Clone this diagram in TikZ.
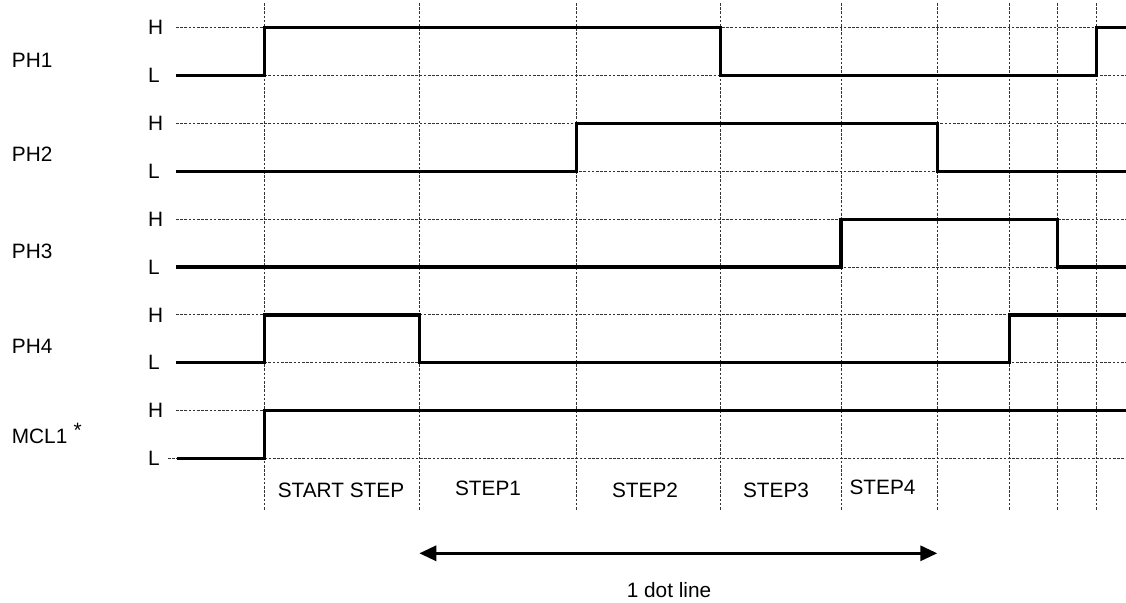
\documentclass[tikz,border=0pt]{standalone}
\usepackage{fontspec}
\setmainfont{Liberation Sans}
\usetikzlibrary{arrows.meta}
\begin{document}
\begin{tikzpicture}[x=1pt,y=-1pt,
  gridline/.style={line width=0.85pt, black!80, dash pattern=on 2.6pt off 1.6pt},
  sig/.style={line width=3.2pt, line join=miter, line cap=butt, black},
  txt/.style={font=\fontsize{20.8}{24}\selectfont, inner sep=0pt},
  lbl/.style={txt, anchor=west},
  span/.style={line width=3.2pt, {Triangle[length=17pt,width=15pt]}-{Triangle[length=17pt,width=15pt]}},
]
\useasboundingbox (0,0) rectangle (1126,602);
% column positions
\def\xA{264.3}\def\xB{419.3}\def\xC{576.7}\def\xD{720.7}\def\xE{841}
\def\xF{937.3}\def\xG{1009.3}\def\xH{1057.3}\def\xI{1096.7}
% vertical dotted lines
\foreach \x in {\xA,\xB,\xC,\xD,\xE,\xF,\xG,\xH,\xI}
  \draw[gridline] (\x,3) -- (\x,510);
% horizontal dotted lines
\foreach \y in {27.5,75.4,123.3,171.2,219.1,267,314.9,362.8,410.7}
  \draw[gridline] (176,\y) -- (1126,\y);
\draw[gridline] (168,458.6) -- (1126,458.6);
% level labels
\foreach \y/\n in {27.5/h1,123.3/h2,219.1/h3,314.9/h4,410.7/h5}
  \node[lbl] (\n) at (148,\y) {H};
\foreach \y/\n in {75.4/l1,171.2/l2,267/l3,362.8/l4,458.6/l5}
  \node[lbl] (\n) at (148,\y) {L};
% signal names
\node[lbl] (ph1) at (11.7,60) {PH1};
\node[lbl] (ph2) at (11.7,154.5) {PH2};
\node[lbl] (ph3) at (11.7,251.5) {PH3};
\node[lbl] (ph4) at (11.7,346.5) {PH4};
\node[lbl] (mcl) at (11.7,436.5) {MCL1};
\node[txt, anchor=north west] (ast) at (73.5,423) {*};
% signals
\draw[sig] (176,75.4) -- (\xA,75.4) -- (\xA,27.5) -- (\xD,27.5) -- (\xD,75.4) -- (\xI,75.4) -- (\xI,27.5) -- (1126,27.5);
\draw[sig] (176,171.2) -- (\xC,171.2) -- (\xC,123.3) -- (\xF,123.3) -- (\xF,171.2) -- (1126,171.2);
\draw[sig] (176,267) -- (\xE,267) -- (\xE,219.1) -- (\xH,219.1) -- (\xH,267) -- (1126,267);
\draw[sig] (176,362.8) -- (\xA,362.8) -- (\xA,314.9) -- (\xB,314.9) -- (\xB,362.8) -- (\xG,362.8) -- (\xG,314.9) -- (1126,314.9);
\draw[sig] (177,458.6) -- (\xA,458.6) -- (\xA,410.7) -- (1126,410.7);
% step labels
\node[txt] (s0) at (341,490) {START STEP};
\node[txt] (s1) at (488,488) {STEP1};
\node[txt] (s2) at (645,490) {STEP2};
\node[txt] (s3) at (776,490) {STEP3};
\node[txt] (s4) at (882.5,487) {STEP4};
% span arrow
\coordinate (aL) at (\xB,553.3);
\coordinate (aR) at (\xF,553.3);
\draw[span] (aL) -- (aR);
\node[txt] (dl) at (669,590) {1 dot line};
\end{tikzpicture}
\end{document}
